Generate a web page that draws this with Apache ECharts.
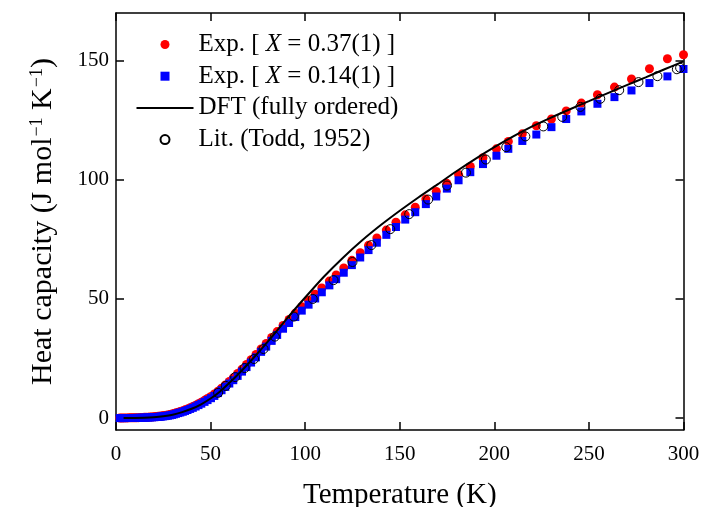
<!DOCTYPE html>
<html><head><meta charset="utf-8">
<script src="https://cdn.jsdelivr.net/npm/echarts@6/dist/echarts.min.js"></script>
<style>html,body{margin:0;padding:0;background:#fff}#c{width:701px;height:507px}</style>
</head><body><div id="c"></div>
<script>
// Temperatures (K) of the experimental points (shared by both samples)
const expT = [2,3,4,5,6,7,8,9,10,11,12,13,14,15,16,17,18,19,20,
  20.8,21.5,22.3,23.1,23.9,24.8,25.7,26.6,27.5,28.5,
  29.6,30.6,31.7,32.9,34,35.3,36.5,37.8,39.2,40.6,
  42.1,43.6,45.1,46.8,48.4,50.2,52,53.9,55.8,57.8,
  59.9,62,64.3,66.6,69,71.4,74,76.7,79.4,82.3,
  85.2,88.3,91.5,94.8,98.2,101.8,105.3,108.8,112.8,116.4,
  120.4,124.7,129.1,133.5,137.9,142.9,148,152.9,158.2,163.8,
  169.3,174.9,181.1,187.3,194,201.1,207.4,214.8,222.2,230.2,
  238,246,254.5,263.5,272.5,282,291.5,300];
// Heat capacity, X = 0.37(1)
const cpX037 = [0.05,0.05,0.06,0.07,0.08,0.09,0.1,0.12,0.14,0.16,0.19,0.22,0.26,0.3,0.34,0.39,0.44,0.49,0.55,
  0.6,0.65,0.72,0.8,0.87,0.97,1.08,1.2,1.33,1.48,
  1.7,1.93,2.2,2.5,2.75,3.08,3.45,3.85,4.32,4.83,
  5.42,6.03,6.65,7.45,8.22,9.1,10.1,11.3,12.5,13.9,
  15.4,16.9,18.7,20.5,22.5,24.5,26.7,29.0,31.3,33.8,
  36.3,38.9,41.4,44.0,46.7,49.4,52.0,54.6,57.5,60.1,
  63.0,66.2,69.4,72.5,75.6,78.9,82.2,85.3,88.5,91.9,
  95.1,98.5,102.2,105.6,109.3,113.0,116.1,119.3,122.7,125.5,
  128.9,132.2,135.7,138.9,142.3,146.6,150.8,152.5];
// Heat capacity, X = 0.14(1)
const cpX014 = [0,0,0.01,0.01,0.02,0.03,0.04,0.05,0.06,0.08,0.1,0.12,0.15,0.18,0.21,0.25,0.29,0.33,0.38,
  0.42,0.46,0.52,0.58,0.64,0.72,0.81,0.91,1.02,1.15,
  1.33,1.55,1.8,2.1,2.35,2.65,3.0,3.4,3.85,4.3,
  4.85,5.45,6.05,6.8,7.55,8.35,9.3,10.5,11.7,13.1,
  14.5,15.9,17.7,19.5,21.4,23.3,25.5,27.8,30.0,32.4,
  34.9,37.5,39.9,42.4,45.1,47.6,50.2,52.8,55.7,58.3,
  61.0,64.2,67.4,70.5,73.6,76.9,80.2,83.3,86.4,89.8,
  93.0,96.3,99.8,103.2,106.6,110.1,113.0,116.3,119.0,122.1,
  125.5,128.7,131.9,134.7,137.5,140.6,143.4,146.5];
// DFT (fully ordered)
const dftT = [4,10,15,20,25,30,35,40,45,50,55,60,65,70,75,80,85,90,95,100,
  110,120,130,140,150,160,170,180,190,200,210,220,230,240,250,260,270,280,290,300];
const dftCp = [0,0.04,0.13,0.35,0.75,1.4,2.5,3.9,5.8,8.2,11.2,14.8,18.7,22.9,27.3,31.9,36.6,41.4,46.1,50.6,
  59.4,67.3,74.5,81.0,87.0,92.7,98.1,103.6,108.8,113.7,118.2,122.4,126.1,129.6,133.0,136.4,139.7,143.0,146.4,149.7];
// Literature (Todd, 1952)
const litT = [54,58,63,68,73,78,84,94,104,115,125,135,145,155,165,175,185,195.5,
  206.3,216.4,225.9,235.9,245.5,256,266,276.2,286.2,296.5,298.2];
const litCp = [10.6,13.5,17.2,21.0,24.8,29.0,34.2,42.6,50.0,57.9,65.5,72.6,79.3,85.6,91.7,97.6,103.0,108.5,
  113.7,118.2,122.4,126.4,130.6,134.0,137.6,141.0,143.5,146.4,147.0];

const yTicks = [0, 50, 100, 150];
const seriesNames = ['Exp. [ X = 0.37(1) ]', 'Exp. [ X = 0.14(1) ]', 'DFT (fully ordered)', 'Lit. (Todd, 1952)'];
const xTitle = 'Temperature (K)';
const yTitle = 'Heat capacity (J mol{sup|\u22121} K{sup|\u22121})';

const F = 'Liberation Serif';
const zip = (a, b) => a.map((v, i) => [v, b[i]]);
const line = {show: true, onZero: false, lineStyle: {color: '#000', width: 1.5}};
const tick = {show: true, inside: true, length: 8, lineStyle: {color: '#000', width: 1.5}};
const xl = {fontFamily: F, fontSize: 21, color: '#000', margin: 14};
const yl = {fontFamily: F, fontSize: 21, color: '#000', margin: 7};

const chart = echarts.init(document.getElementById('c'), null, {renderer: 'canvas'});
chart.setOption({
  animation: false,
  backgroundColor: '#fff',
  grid: {left: 116, right: 17.5, top: 13, bottom: 77, containLabel: false, outerBoundsMode: 'none'},
  legend: {
    data: [
      {name: seriesNames[0], icon: 'circle'},
      {name: seriesNames[1], icon: 'path://M0 0H10V10H0Z'},
      {name: seriesNames[2], icon: 'path://M0 0H57V2H0Z'},
      {name: seriesNames[3], icon: 'circle'}
    ],
    orient: 'vertical', left: 136.5, top: 32, padding: 0,
    itemWidth: 57, itemHeight: 9, itemGap: 6.7, selectedMode: false, symbolKeepAspect: true,
    formatter: n => n.replace('X', '{i|X}'),
    textStyle: {fontFamily: F, fontSize: 25, color: '#000', lineHeight: 22,
      rich: {i: {fontFamily: F, fontSize: 25, fontStyle: 'italic', color: '#000', lineHeight: 22}}}
  },
  xAxis: [
    {type: 'value', position: 'bottom', min: 0, max: 300, interval: 50,
     axisLine: line, axisTick: tick, axisLabel: xl, splitLine: {show: false},
     name: xTitle, nameLocation: 'middle', nameGap: 51,
     nameTextStyle: {fontFamily: F, fontSize: 29, color: '#000'}},
    {type: 'value', position: 'top', min: 0, max: 300, interval: 50,
     axisLine: line, axisTick: tick, axisLabel: {show: false}, splitLine: {show: false}}
  ],
  yAxis: [
    {type: 'value', position: 'left', min: -5, max: 170,
     axisLine: line, axisTick: Object.assign({customValues: yTicks}, tick),
     axisLabel: Object.assign({customValues: yTicks}, yl), splitLine: {show: false},
     name: yTitle, nameLocation: 'middle', nameGap: 58,
     nameTextStyle: {fontFamily: F, fontSize: 30, color: '#000',
       rich: {sup: {fontFamily: F, fontSize: 18, color: '#000', verticalAlign: 'top', padding: [0, 0, 0, 1]}}}},
    {type: 'value', position: 'right', min: -5, max: 170,
     axisLine: line, axisTick: Object.assign({customValues: yTicks}, tick),
     axisLabel: {show: false}, splitLine: {show: false}}
  ],
  series: [
    {name: seriesNames[0], type: 'scatter', data: zip(expT, cpX037), symbol: 'circle', symbolSize: 9,
     itemStyle: {color: '#ff0000', opacity: 1}, emphasis: {disabled: true}},
    {name: seriesNames[1], type: 'scatter', data: zip(expT, cpX014), symbol: 'rect', symbolSize: 8,
     itemStyle: {color: '#0000ff', opacity: 1}, emphasis: {disabled: true}},
    {name: seriesNames[3], type: 'scatter', data: zip(litT, litCp), symbol: 'circle', symbolSize: 9,
     itemStyle: {color: 'rgba(255,255,255,0)', borderColor: '#000', borderWidth: 1, opacity: 1}, emphasis: {disabled: true}},
    {name: seriesNames[2], type: 'line', data: zip(dftT, dftCp), symbol: 'none', smooth: 0.3,
     lineStyle: {color: '#000', width: 2}, itemStyle: {color: '#000'}, emphasis: {disabled: true}}
  ]
});
</script></body></html>
